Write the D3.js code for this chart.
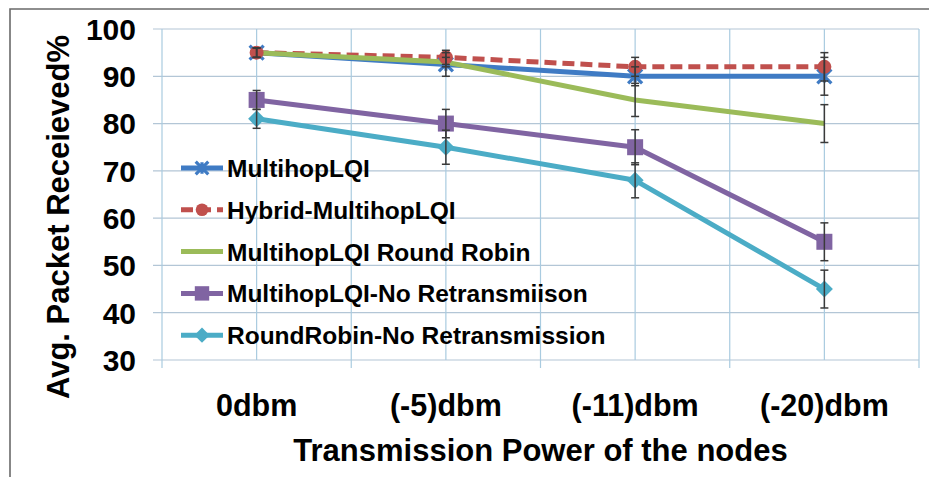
<!DOCTYPE html>
<html><head><meta charset="utf-8">
<script src="https://cdn.jsdelivr.net/npm/d3@7"></script>
<style>
html,body{margin:0;padding:0;background:#fff;}
svg{display:block;font-family:"Liberation Sans",Arial,sans-serif;}
</style></head>
<body><svg id="chart" width="929" height="477"></svg>
<script>
const categories = ["0dbm", "(-5)dbm", "(-11)dbm", "(-20)dbm"];
const yTickValues = [30, 40, 50, 60, 70, 80, 90, 100];
const seriesNames = ["MultihopLQI", "Hybrid-MultihopLQI", "MultihopLQI Round Robin", "MultihopLQI-No Retransmiison", "RoundRobin-No Retransmission"];
const multihopLQI = [95, 92.5, 90, 90];
const multihopLQIErr = [1, 2.5, 2, 4];
const hybridMultihopLQI = [95, 94, 92, 92];
const hybridMultihopLQIErr = [1, 1.5, 2, 3];
const roundRobin = [95, 93, 85, 80];
const roundRobinErr = [1, 1, 3.5, 4];
const multihopNoRetx = [85, 80, 75, 55];
const multihopNoRetxErr = [2, 3, 3.7, 4];
const roundRobinNoRetx = [81, 75, 68, 45];
const roundRobinNoRetxErr = [2, 3.6, 3.7, 4];
const colors = ["#3f7bc4", "#c0504d", "#9bbb59", "#8064a2", "#4bacc6"];
const markers = ["x", "circle", "none", "square", "diamond"];

const series = seriesNames.map((name, i) => ({
  name,
  values: [multihopLQI, hybridMultihopLQI, roundRobin, multihopNoRetx, roundRobinNoRetx][i],
  errors: [multihopLQIErr, hybridMultihopLQIErr, roundRobinErr, multihopNoRetxErr, roundRobinNoRetxErr][i],
  color: colors[i],
  marker: markers[i],
  dashed: i === 1
}));

const svg = d3.select("#chart");
const pLeft = 162, pRight = 919, pTop = 29, pBottom = 360;
const x = d3.scaleBand().domain(categories).range([pLeft, pRight]).padding(0);
const y = d3.scaleLinear().domain([30, 100]).range([pBottom, pTop]);
const cx = c => x(c) + x.bandwidth() / 2;

// outer frame (top & left)
svg.append("path").attr("d", `M10,477 L10,9 L929,9`).attr("fill", "none").attr("stroke", "#6a6a6a").attr("stroke-width", 1.6);

// gridlines
const grid = svg.append("g");
grid.selectAll("line.h").data(yTickValues).join("line")
  .attr("x1", pLeft - 9).attr("x2", pRight).attr("y1", d => y(d)).attr("y2", d => y(d))
  .attr("stroke", "#b3c6d6").attr("stroke-width", 1.2);
const vEdges = categories.map(c => x(c)).concat([x.range()[1]]);
grid.selectAll("line.ve").data(vEdges).join("line")
  .attr("x1", d => d).attr("x2", d => d).attr("y1", pTop).attr("y2", pBottom + 8)
  .attr("stroke", "#a9cbe0").attr("stroke-width", 1.2);
grid.selectAll("line.vc").data(categories).join("line")
  .attr("x1", d => cx(d)).attr("x2", d => cx(d)).attr("y1", pTop).attr("y2", pBottom)
  .attr("stroke", "#a9cbe0").attr("stroke-width", 1.2);

// y tick labels
svg.append("g").selectAll("text").data(yTickValues).join("text")
  .attr("x", 136).attr("y", d => y(d)).attr("dy", "0.36em")
  .attr("text-anchor", "end").attr("font-size", 30).attr("font-weight", "bold")
  .attr("fill", "#000").text(d => d);

// x tick labels
svg.append("g").selectAll("text").data(categories).join("text")
  .attr("x", d => cx(d)).attr("y", 416)
  .attr("text-anchor", "middle").attr("font-size", 30.5).attr("font-weight", "bold")
  .attr("fill", "#000").text(d => d);

// axis titles
svg.append("text").attr("x", (pLeft + pRight) / 2).attr("y", 461)
  .attr("text-anchor", "middle").attr("font-size", 31).attr("font-weight", "bold")
  .text("Transmission Power of the nodes");
svg.append("text").attr("transform", "translate(69,217) rotate(-90)")
  .attr("text-anchor", "middle").attr("font-size", 31).attr("font-weight", "bold")
  .text("Avg. Packet Receieved%");

function drawMarker(g, s, px, py, scale) {
  const k = scale || 1;
  if (s.marker === "circle") {
    g.append("circle").attr("cx", px).attr("cy", py).attr("r", 7 * k).attr("fill", s.color);
  } else if (s.marker === "square") {
    g.append("rect").attr("x", px - 8 * k).attr("y", py - 8 * k).attr("width", 16 * k).attr("height", 16 * k).attr("fill", s.color);
  } else if (s.marker === "diamond") {
    g.append("path").attr("transform", `translate(${px},${py}) rotate(45)`)
      .attr("d", `M${-6*k},${-6*k}h${12*k}v${12*k}h${-12*k}Z`).attr("fill", s.color);
  } else if (s.marker === "x") {
    const r = 7 * k;
    g.append("path").attr("d", `M${px-r},${py-r}L${px+r},${py+r}M${px-r},${py+r}L${px+r},${py-r}M${px},${py-r*0.9}L${px},${py+r*0.9}`)
      .attr("stroke", s.color).attr("stroke-width", 3.2).attr("fill", "none");
  }
}

const line = d3.line().x((d, i) => cx(categories[i])).y(d => y(d));
const plot = svg.append("g");
series.forEach(s => {
  plot.append("path").datum(s.values).attr("d", line)
    .attr("fill", "none").attr("stroke", s.color).attr("stroke-width", 5)
    .attr("stroke-dasharray", s.dashed ? "12,6" : null)
    .attr("stroke-linejoin", "round");
});
series.forEach(s => {
  s.values.forEach((v, i) => drawMarker(plot, s, cx(categories[i]), y(v)));
});
// error bars
const eb = svg.append("g").attr("stroke", "#3a3a3a").attr("stroke-width", 1.5);
series.forEach(s => {
  s.values.forEach((v, i) => {
    const px = cx(categories[i]);
    const e = s.errors[i];
    eb.append("line").attr("x1", px).attr("x2", px).attr("y1", y(v + e)).attr("y2", y(v - e));
    eb.append("line").attr("x1", px - 4).attr("x2", px + 4).attr("y1", y(v + e)).attr("y2", y(v + e));
    eb.append("line").attr("x1", px - 4).attr("x2", px + 4).attr("y1", y(v - e)).attr("y2", y(v - e));
  });
});

// legend
const legend = svg.append("g");
series.forEach((s, i) => {
  const ly = 168 + i * 41.8;
  const g = legend.append("g");
  g.append("line").attr("x1", 181).attr("x2", 223).attr("y1", ly).attr("y2", ly)
    .attr("stroke", s.color).attr("stroke-width", 5)
    .attr("stroke-dasharray", s.dashed ? "12,6" : null);
  drawMarker(g, s, 202, ly, 0.9);
  g.append("text").attr("x", 227).attr("y", ly + 9).attr("font-size", 24.5).attr("font-weight", "bold")
    .attr("fill", "#000").text(s.name);
});
</script></body></html>
